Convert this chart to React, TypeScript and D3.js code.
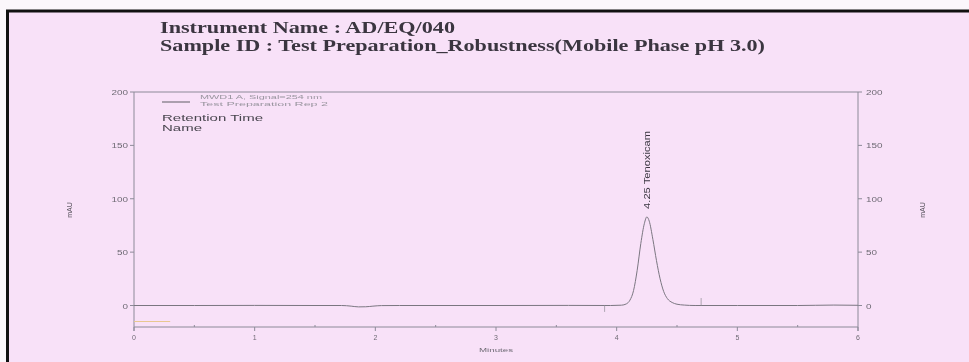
import React from "react";
import * as d3 from "d3";

// Chromatogram trace (minutes, mAU)
const traceTime = [0, 0.5, 1.0, 1.5, 1.72, 1.8, 1.86, 1.92, 1.98, 2.05, 2.2, 3.0, 3.6, 3.95, 4.04, 4.08, 4.11, 4.14, 4.17, 4.2, 4.23, 4.25, 4.27, 4.3, 4.33, 4.36, 4.39, 4.42, 4.46, 4.5, 4.56, 4.65, 5.0, 5.5, 5.8, 6.0];
const traceValue = [0, 0, 0.1, 0, 0, -0.6, -1.3, -1.2, -0.6, -0.1, 0, 0, 0.1, 0, 0.3, 1.5, 5, 14, 33, 58, 77, 83, 79, 62, 42, 25, 13, 6.5, 2.8, 1.2, 0.4, 0, 0, 0, 0.4, 0.2];

// Integration markers (minutes, from mAU, to mAU)
const markerTime = [3.9, 4.7];
const markerFrom = [0, 0];
const markerTo = [-6, 7];

// Faint reference trace near the bottom-left
const refTime = [0, 0.3];
const refValue = [-15, -15];

const yTicks = [0, 50, 100, 150, 200];
const xTicks = [0, 1, 2, 3, 4, 5, 6];
const xMinor = [0.5, 1.5, 2.5, 3.5, 4.5, 5.5];

const peakTime = 4.25;
const peakValue = 83;
const peakName = "Tenoxicam";

const titleLines = [
  "Instrument Name : AD/EQ/040",
  "Sample ID : Test Preparation_Robustness(Mobile Phase pH 3.0)",
];
const legendLines = ["MWD1 A, Signal=254 nm", "Test Preparation    Rep 2"];
const tableHeads = ["Retention Time", "Name"];

const W = 969;
const H = 362;

export default function App() {
  const x = d3.scaleLinear().domain([0, 6]).range([134, 858]);
  const y = d3.scaleLinear().domain([0, 200]).range([305.5, 92]);
  const yBottom = 327;

  const line = d3
    .line<number>()
    .x((_, i) => x(traceTime[i]))
    .y((d) => y(d))
    .curve(d3.curveMonotoneX);

  const refLine = d3
    .line<number>()
    .x((_, i) => x(refTime[i]))
    .y((d) => y(d));

  const axisColor = "#8c8a98";
  const labelColor = "#6e6a74";
  const numFont = "'Liberation Sans', Arial, sans-serif";

  return (
    <svg
      width={W}
      height={H}
      style={{ position: "absolute", left: 0, top: 0 }}
      xmlns="http://www.w3.org/2000/svg"
    >
      <defs>
        <filter id="soft" x="-5%" y="-5%" width="110%" height="110%">
          <feGaussianBlur stdDeviation="0.45" />
        </filter>
      </defs>
      <rect x={0} y={0} width={W} height={H} fill="#fbf7fb" />
      <rect x={8} y={11} width={W - 8} height={H - 11} fill="#f8e1f8" />
      {/* frame */}
      <line x1={6} x2={W} y1={11} y2={11} stroke="#111" strokeWidth={3} />
      <line x1={7.5} x2={7.5} y1={10} y2={H} stroke="#111" strokeWidth={3} />

      <g filter="url(#soft)">
        {/* title */}
        {titleLines.map((t, i) => (
          <text
            key={t}
            x={160}
            y={33 + i * 18}
            fontFamily="'Liberation Serif', 'Times New Roman', serif"
            fontWeight="bold"
            fontSize={16}
            fill="#3a3640"
            textLength={i === 0 ? 295 : 605}
            lengthAdjust="spacingAndGlyphs"
          >
            {t}
          </text>
        ))}

        {/* plot frame */}
        <line x1={x(0)} x2={x(6)} y1={92} y2={92} stroke={axisColor} strokeWidth={1} />
        <line x1={x(0)} x2={x(0)} y1={92} y2={yBottom + 4} stroke={axisColor} strokeWidth={1} />
        <line x1={x(6)} x2={x(6)} y1={92} y2={yBottom + 4} stroke={axisColor} strokeWidth={1} />
        <line x1={x(0)} x2={x(6)} y1={yBottom} y2={yBottom} stroke={axisColor} strokeWidth={1} />

        {/* y ticks both sides */}
        {yTicks.map((t) => (
          <g key={t}>
            <line x1={x(0) - 4} x2={x(0)} y1={y(t)} y2={y(t)} stroke={axisColor} />
            <line x1={x(6)} x2={x(6) + 4} y1={y(t)} y2={y(t)} stroke={axisColor} />
            <text
              x={x(0) - 6}
              y={y(t) + 3}
              textAnchor="end"
              fontFamily={numFont}
              fontSize={7}
              fill={labelColor}
              textLength={String(t).length * 5.5}
              lengthAdjust="spacingAndGlyphs"
            >
              {t}
            </text>
            <text
              x={x(6) + 8}
              y={y(t) + 3}
              fontFamily={numFont}
              fontSize={7}
              fill={labelColor}
              textLength={String(t).length * 5.5}
              lengthAdjust="spacingAndGlyphs"
            >
              {t}
            </text>
          </g>
        ))}

        {/* x ticks */}
        {xTicks.map((t) => (
          <g key={t}>
            <line x1={x(t)} x2={x(t)} y1={yBottom} y2={yBottom + 4} stroke={axisColor} />
            <text
              x={x(t)}
              y={yBottom + 13}
              textAnchor="middle"
              fontFamily={numFont}
              fontSize={7}
              fill={labelColor}
            >
              {t}
            </text>
          </g>
        ))}
        {xMinor.map((t) => (
          <line key={t} x1={x(t)} x2={x(t)} y1={yBottom - 2} y2={yBottom} stroke={axisColor} />
        ))}
        <text
          x={(x(0) + x(6)) / 2}
          y={352}
          textAnchor="middle"
          fontFamily={numFont}
          fontSize={6}
          fill={labelColor}
          textLength={34}
          lengthAdjust="spacingAndGlyphs"
        >
          Minutes
        </text>

        {/* mAU labels */}
        <text
          transform={`translate(72,210) rotate(-90)`}
          textAnchor="middle"
          fontFamily={numFont}
          fontSize={7}
          fill="#55505a"
        >
          mAU
        </text>
        <text
          transform={`translate(925,210) rotate(-90)`}
          textAnchor="middle"
          fontFamily={numFont}
          fontSize={7}
          fill="#55505a"
        >
          mAU
        </text>

        {/* legend */}
        <line x1={162} x2={190} y1={102} y2={102} stroke="#77737d" strokeWidth={1.2} />
        {legendLines.map((t, i) => (
          <text
            key={t}
            x={200}
            y={99 + i * 7}
            fontFamily={numFont}
            fontSize={6}
            fill="#9a96a0"
            textLength={i === 0 ? 122 : 128}
            lengthAdjust="spacingAndGlyphs"
          >
            {t}
          </text>
        ))}
        {tableHeads.map((t, i) => (
          <text
            key={t}
            x={162}
            y={121 + i * 10}
            fontFamily={numFont}
            fontSize={9}
            fill="#4a4650"
            textLength={i === 0 ? 101 : 40}
            lengthAdjust="spacingAndGlyphs"
          >
            {t}
          </text>
        ))}

        {/* reference trace */}
        <path d={refLine(refValue) || ""} fill="none" stroke="#e8c890" strokeWidth={1} />

        {/* baseline trace */}
        <path d={line(traceValue) || ""} fill="none" stroke="#7a7680" strokeWidth={1} />

        {/* integration markers */}
        {markerTime.map((t, i) => (
          <line
            key={t}
            x1={x(t)}
            x2={x(t)}
            y1={y(markerFrom[i])}
            y2={y(markerTo[i])}
            stroke="#9a96a0"
            strokeWidth={0.8}
          />
        ))}

        {/* peak label */}
        <text
          transform={`translate(${x(peakTime) + 3},${y(peakValue) - 8}) rotate(-90)`}
          fontFamily={numFont}
          fontSize={9}
          fill="#3a3640"
          textLength={78}
          lengthAdjust="spacingAndGlyphs"
        >
          {`${peakTime.toFixed(2)} ${peakName}`}
        </text>
      </g>
    </svg>
  );
}
